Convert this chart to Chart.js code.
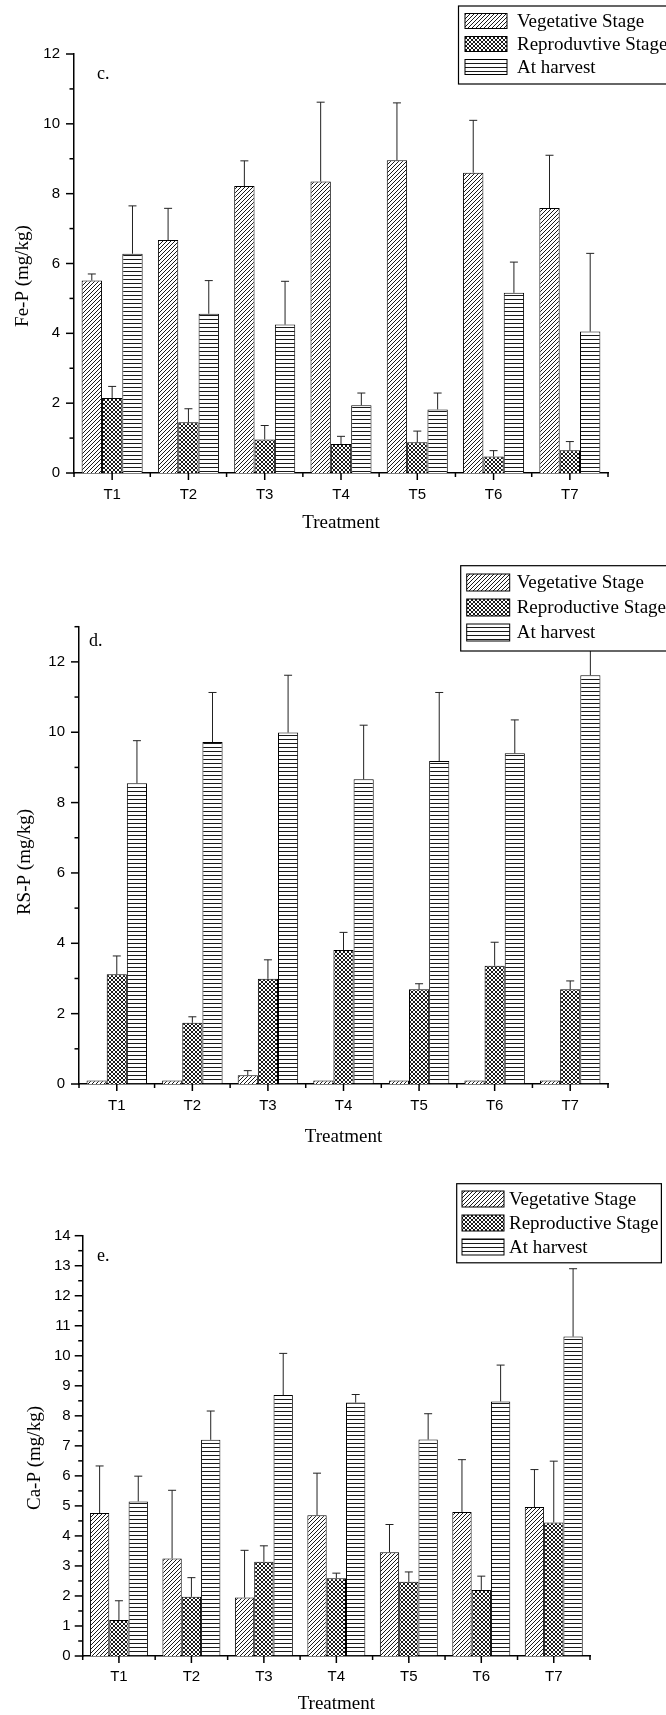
<!DOCTYPE html>
<html>
<head>
<meta charset="utf-8">
<script src="https://cdn.jsdelivr.net/npm/chart.js@4.4.1/dist/chart.umd.min.js"></script>
<style>
  body { margin: 0; background: #fff; }
  .wrap { position: relative; width: 666px; }
  canvas { display: block; }
</style>
</head>
<body>
<div class="wrap" style="height:540px"><canvas id="chartC"></canvas></div>
<div class="wrap" style="height:620px"><canvas id="chartD"></canvas></div>
<div class="wrap" style="height:555px"><canvas id="chartE"></canvas></div>
<script>
// x axis categories
const treatments = ['T1', 'T2', 'T3', 'T4', 'T5', 'T6', 'T7'];

// c. Fe-P (mg/kg) - means and SD (top of error bar minus mean)
const feVeg   = [5.51, 6.67, 8.22, 8.35, 8.96, 8.60, 7.59];
const feVegSd = [0.19, 0.91, 0.72, 2.27, 1.64, 1.50, 1.51];
const feRep   = [2.15, 1.45, 0.96, 0.83, 0.88, 0.47, 0.65];
const feRepSd = [0.33, 0.39, 0.40, 0.22, 0.32, 0.17, 0.25];
const feHar   = [6.28, 4.56, 4.25, 1.94, 1.82, 5.16, 4.05];
const feHarSd = [1.37, 0.95, 1.24, 0.35, 0.47, 0.88, 2.24];
const feTicks = [0, 2, 4, 6, 8, 10, 12];

// d. RS-P (mg/kg)
const rsVeg   = [0.10, 0.10, 0.25, 0.10, 0.10, 0.10, 0.10];
const rsVegSd = [0, 0, 0.13, 0, 0, 0, 0];
const rsRep   = [3.12, 1.74, 2.99, 3.81, 2.69, 3.36, 2.69];
const rsRepSd = [0.52, 0.17, 0.54, 0.50, 0.16, 0.67, 0.24];
const rsHar   = [8.55, 9.72, 9.99, 8.66, 9.18, 9.40, 11.62];
const rsHarSd = [1.21, 1.41, 1.63, 1.54, 1.95, 0.95, 1.50];
const rsTicks = [0, 2, 4, 6, 8, 10, 12];

// e. Ca-P (mg/kg)
const caVeg   = [4.76, 3.25, 1.95, 4.69, 3.46, 4.80, 4.96];
const caVegSd = [1.57, 2.27, 1.57, 1.40, 0.92, 1.74, 1.25];
const caRep   = [1.20, 1.97, 3.14, 2.59, 2.47, 2.20, 4.45];
const caRepSd = [0.64, 0.64, 0.53, 0.17, 0.33, 0.46, 2.04];
const caHar   = [5.15, 7.20, 8.69, 8.44, 7.21, 8.48, 10.64];
const caHarSd = [0.84, 0.96, 1.39, 0.27, 0.86, 1.21, 2.26];
const caTicks = [0, 1, 2, 3, 4, 5, 6, 7, 8, 9, 10, 11, 12, 13, 14];

const SERIF = '"Liberation Serif", "Times New Roman", serif';
const SANS = '"Liberation Sans", Arial, sans-serif';

// hatch fills like the Origin plot
function makePattern(kind, size) {
  const c = document.createElement('canvas');
  c.width = size; c.height = size;
  const g = c.getContext('2d');
  g.fillStyle = '#fff';
  g.fillRect(0, 0, size, size);
  g.strokeStyle = '#000';
  g.lineWidth = 0.9;
  g.beginPath();
  if (kind === 'diag' || kind === 'cross') {
    g.moveTo(0, size); g.lineTo(size, 0);
    g.moveTo(-1, 1); g.lineTo(1, -1);
    g.moveTo(size - 1, size + 1); g.lineTo(size + 1, size - 1);
  }
  if (kind === 'cross') {
    g.moveTo(0, 0); g.lineTo(size, size);
    g.moveTo(size - 1, -1); g.lineTo(size + 1, 1);
    g.moveTo(-1, size - 1); g.lineTo(1, size + 1);
  }
  if (kind === 'horiz') {
    g.moveTo(0, size - 0.5); g.lineTo(size, size - 0.5);
  }
  g.stroke();
  return g.createPattern(c, 'repeat');
}
const fills = [makePattern('diag', 4), makePattern('cross', 4), makePattern('horiz', 4)];

// error bars, Origin style ticks, y title, panel letter and boxed legend
const originPlugin = {
  id: 'originStyle',
  afterDatasetsDraw(chart, args, opts) {
    const ctx = chart.ctx;
    const xs = chart.scales.x, ys = chart.scales.y;
    ctx.save();
    // error bars (upper only)
    ctx.strokeStyle = '#222';
    ctx.lineWidth = 1;
    chart.data.datasets.forEach((ds, i) => {
      const sd = opts.sds[i];
      chart.getDatasetMeta(i).data.forEach((bar, j) => {
        if (!sd[j]) return;
        const yt = ys.getPixelForValue(ds.data[j] + sd[j]);
        ctx.beginPath();
        ctx.moveTo(bar.x, bar.y);
        ctx.lineTo(bar.x, yt);
        ctx.moveTo(bar.x - 4, yt);
        ctx.lineTo(bar.x + 4, yt);
        ctx.stroke();
      });
    });
    // y ticks: major labelled, minor between
    ctx.strokeStyle = '#000';
    ctx.lineWidth = 1.5;
    const ax = chart.chartArea.left;
    for (let v = 0; v <= ys.max + 1e-9; v += opts.minorStep) {
      const major = Math.abs(v / opts.majorStep - Math.round(v / opts.majorStep)) < 1e-6;
      const y = ys.getPixelForValue(v);
      ctx.beginPath();
      ctx.moveTo(ax, y);
      ctx.lineTo(ax - (major ? 8 : 4.5), y);
      ctx.stroke();
    }
    // x ticks at category centres and boundaries
    const ay = chart.chartArea.bottom;
    const w = xs.width / treatments.length;
    treatments.forEach((t, i) => {
      const x = xs.getPixelForValue(i);
      ctx.beginPath();
      ctx.moveTo(x, ay);
      ctx.lineTo(x, ay + 7);
      ctx.stroke();
    });
    for (let i = 0; i <= treatments.length; i++) {
      const x = xs.left + i * w;
      ctx.beginPath();
      ctx.moveTo(x, ay);
      ctx.lineTo(x, ay + 4);
      ctx.stroke();
    }
    ctx.restore();
  },
  afterDraw(chart, args, opts) {
    const ctx = chart.ctx;
    ctx.save();
    ctx.fillStyle = '#000';
    ctx.textBaseline = 'middle';

    // y axis title, rotated
    ctx.font = '19px ' + SERIF;
    ctx.textAlign = 'center';
    ctx.save();
    ctx.translate(opts.yTitleX, opts.yTitleY);
    ctx.rotate(-Math.PI / 2);
    ctx.fillText(opts.yTitle, 0, 0);
    ctx.restore();

    ctx.textAlign = 'left';
    ctx.font = '18px ' + SERIF;
    ctx.fillText(opts.letter, opts.letterX, opts.letterY);

    const lg = opts.legend;
    ctx.fillStyle = '#fff';
    ctx.fillRect(lg.x, lg.y, lg.r - lg.x, lg.b - lg.y);
    ctx.strokeStyle = '#000';
    ctx.lineWidth = 1.2;
    ctx.strokeRect(lg.x, lg.y, lg.r - lg.x, lg.b - lg.y);
    ctx.font = '19px ' + SERIF;
    chart.data.datasets.forEach((ds, i) => {
      const top = lg.rows[i];
      ctx.fillStyle = ds.backgroundColor;
      ctx.fillRect(lg.sx, top, lg.sw, lg.sh);
      ctx.lineWidth = 1;
      ctx.strokeRect(lg.sx, top, lg.sw, lg.sh);
      ctx.fillStyle = '#000';
      ctx.fillText(ds.label, lg.tx, top + lg.sh / 2 + 1);
    });
    ctx.restore();
  }
};

function buildChart(id, cfg) {
  const H = cfg.height;
  const names = cfg.names;
  return new Chart(document.getElementById(id), {
    type: 'bar',
    data: {
      labels: treatments,
      datasets: cfg.series.map((vals, i) => ({
        label: names[i],
        data: vals,
        backgroundColor: fills[i],
        borderColor: '#000',
        borderWidth: 1,
        categoryPercentage: 0.8,
        barPercentage: 1
      }))
    },
    options: {
      responsive: true,
      maintainAspectRatio: false,
      animation: false,
      layout: { padding: { left: 0, top: cfg.area.top, right: 666 - cfg.area.right, bottom: 0 } },
      plugins: {
        legend: { display: false },
        tooltip: { enabled: false },
        originStyle: {
          sds: cfg.sds,
          majorStep: cfg.majorStep,
          minorStep: cfg.minorStep,
          yTitle: cfg.yTitle,
          yTitleX: cfg.yTitleX,
          yTitleY: cfg.yTitleY,
          letter: cfg.letter,
          letterX: cfg.letterX,
          letterY: cfg.letterY,
          legend: cfg.legend
        }
      },
      scales: {
        x: {
          offset: true,
          grid: { display: false, drawTicks: false },
          border: { display: true, color: '#000', width: 1.5 },
          ticks: {
            color: '#000',
            font: { family: SANS, size: 15 },
            padding: cfg.xTickPad,
            maxRotation: 0,
            autoSkip: false
          },
          title: {
            display: true,
            text: 'Treatment',
            color: '#000',
            font: { family: SERIF, size: 19 },
            padding: { top: 0, bottom: cfg.xTitlePad }
          },
          afterFit: s => { s.height = H - cfg.area.bottom; }
        },
        y: {
          min: 0,
          max: cfg.yMax,
          grid: { display: false, drawTicks: false },
          border: { display: true, color: '#000', width: 1.5 },
          afterBuildTicks: s => { s.ticks = cfg.yTicks.map(v => ({ value: v })); },
          ticks: {
            color: '#000',
            font: { family: SANS, size: 15 },
            padding: cfg.yTickPad
          },
          afterFit: s => { s.width = cfg.area.left; }
        }
      }
    },
    plugins: [originPlugin]
  });
}

buildChart('chartC', {
  height: 540,
  area: { left: 74, right: 608, top: 54, bottom: 473 },
  names: ['Vegetative Stage', 'Reproduvtive Stage', 'At harvest'],
  series: [feVeg, feRep, feHar],
  sds: [feVegSd, feRepSd, feHarSd],
  yMax: 12, yTicks: feTicks, majorStep: 2, minorStep: 1,
  yTitle: 'Fe-P (mg/kg)', yTitleX: 23, yTitleY: 276, yTickPad: 14,
  xTickPad: 12.7, xTitlePad: 5.6,
  letter: 'c.', letterX: 97, letterY: 74,
  legend: { x: 458.5, y: 6, r: 672, b: 84, sx: 465, sw: 42, sh: 15, rows: [13.5, 36.5, 59.5], tx: 517 }
});

buildChart('chartD', {
  height: 620,
  area: { left: 79, right: 608, top: 86.7, bottom: 544 },
  names: ['Vegetative Stage', 'Reproductive Stage', 'At harvest'],
  series: [rsVeg, rsRep, rsHar],
  sds: [rsVegSd, rsRepSd, rsHarSd],
  yMax: 13, yTicks: rsTicks, majorStep: 2, minorStep: 1,
  yTitle: 'RS-P (mg/kg)', yTitleX: 25.5, yTitleY: 322, yTickPad: 14,
  xTickPad: 12.5, xTitlePad: 11.6,
  letter: 'd.', letterX: 89, letterY: 101.7,
  legend: { x: 460.7, y: 25.7, r: 672, b: 111, sx: 466.7, sw: 43, sh: 17, rows: [34, 59, 84], tx: 516.7 }
});

buildChart('chartE', {
  height: 555,
  area: { left: 82.7, right: 590, top: 75.7, bottom: 496 },
  names: ['Vegetative Stage', 'Reproductive Stage', 'At harvest'],
  series: [caVeg, caRep, caHar],
  sds: [caVegSd, caRepSd, caHarSd],
  yMax: 14, yTicks: caTicks, majorStep: 1, minorStep: 0.5,
  yTitle: 'Ca-P (mg/kg)', yTitleX: 35, yTitleY: 298, yTickPad: 12,
  xTickPad: 11.7, xTitlePad: 0,
  letter: 'e.', letterX: 97, letterY: 96,
  legend: { x: 456.7, y: 23.7, r: 661.4, b: 102.8, sx: 462, sw: 42, sh: 16, rows: [31, 55, 79], tx: 509 }
});
</script>
</body>
</html>
